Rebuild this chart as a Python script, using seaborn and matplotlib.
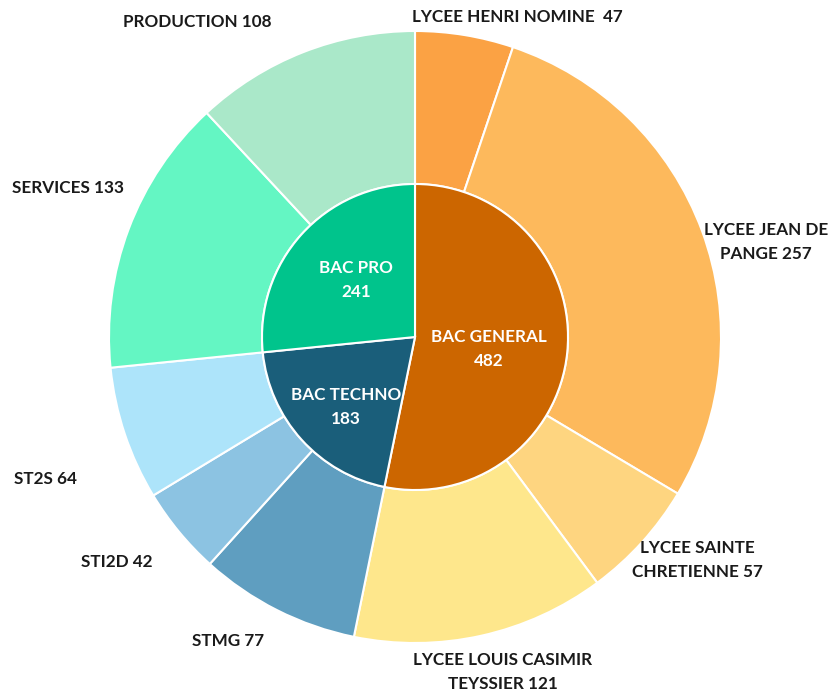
import numpy as np
import seaborn as sns
import matplotlib.pyplot as plt

# Inner ring (bac type) and outer ring (detail)
groups = ["BAC GENERAL", "BAC TECHNO", "BAC PRO"]
group_values = [482, 183, 241]
group_colors = ["#CC6600", "#1A5E7A", "#00C48C"]

sub_labels = ["LYCEE HENRI NOMINE ", "LYCEE JEAN DE\nPANGE", "LYCEE SAINTE\nCHRETIENNE",
              "LYCEE LOUIS CASIMIR\nTEYSSIER", "STMG", "STI2D", "ST2S",
              "SERVICES", "PRODUCTION"]
sub_values = [47, 257, 57, 121, 77, 42, 64, 133, 108]
sub_colors = ["#FBA244", "#FDB95C", "#FED580", "#FEE78C", "#5F9EC0", "#8CC3E2",
              "#ADE4FA", "#64F6C3", "#AAE8C9"]

# label placement (pixels in the 830x695 image)
sub_pos = [(517, 17), (766, 242), (697, 560), (503, 672), (228, 641), (117, 562),
           (45, 479), (68, 188), (197, 22)]
group_pos = [(489, 349), (346, 407), (356, 280)]

sns.set_theme(style="white")
plt.rcParams["font.family"] = ["Lato", "DejaVu Sans"]

W, H = 830, 695
cx, cy, R = 415, 337, 306
fig = plt.figure(figsize=(W / 100, H / 100), dpi=100)
ax = fig.add_axes([0, 0, 1, 1])

wp = dict(edgecolor="white", linewidth=1.5)
ax.pie(sub_values, radius=1.0, colors=sub_colors, startangle=90, counterclock=False,
       wedgeprops=dict(width=0.5, **wp))
ax.pie(group_values, radius=0.5, colors=group_colors, startangle=90, counterclock=False,
       wedgeprops=wp)

ax.set_aspect("equal")
ax.set_xlim(-cx / R, (W - cx) / R)
ax.set_ylim(-(H - cy) / R, cy / R)
ax.axis("off")

for lab, val, (px, py) in zip(sub_labels, sub_values, sub_pos):
    fig.text(px / W, 1 - py / H, f"{lab} {val}", ha="center", va="center",
             fontsize=12.3, fontweight="bold", color="#1a1a1a", linespacing=1.6)

for lab, val, (px, py) in zip(groups, group_values, group_pos):
    fig.text(px / W, 1 - py / H, f"{lab}\n{val}", ha="center", va="center",
             fontsize=12.3, fontweight="bold", color="white", linespacing=1.6)

fig.savefig("out.png", dpi=100)
